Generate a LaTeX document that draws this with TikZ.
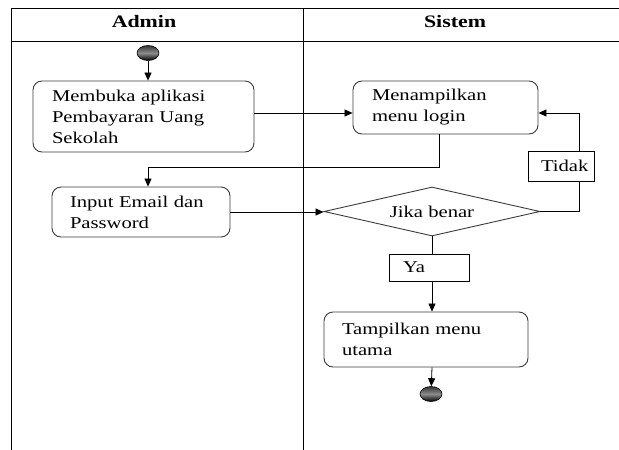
\documentclass[tikz,border=0pt]{standalone}
\usepackage{fontspec}
\setmainfont{Liberation Serif}[FakeStretch=1.25]
\usetikzlibrary{shapes.geometric, positioning, calc, arrows.meta}
\definecolor{lnGray}{RGB}{60,60,60}

\begin{document}
\begin{tikzpicture}[
  x=1pt, y=-1pt,
  font=\fontsize{16.5}{21}\selectfont,
  act/.style={draw=lnGray, line width=0.9pt, rounded corners=9pt, align=left, inner sep=0pt, anchor=center},
  cond/.style={draw=lnGray, line width=0.9pt, diamond, aspect=4.4, inner sep=0pt, minimum width=216pt, minimum height=49pt},
  lbl/.style={draw=black, line width=0.8pt, fill=white, inner sep=0pt, align=left},
  dot/.style={ellipse, draw=black, line width=0.6pt, minimum width=22pt, minimum height=15pt, inner sep=0pt,
    top color=black!80, bottom color=black, middle color=black!45},
  arr/.style={draw=black, line width=0.8pt, -{Triangle[length=8pt,width=7pt]}},
  ln/.style={draw=black, line width=0.8pt},
  lane/.style={font=\fontsize{17.5}{21}\selectfont\bfseries}
]
  \useasboundingbox (0,0) rectangle (619,450);
  % swimlanes
  \draw[ln] (11,8) -- (619,8);
  \draw[ln] (11,41) -- (619,41);
  \draw[ln] (11,8) -- (11,450);
  \draw[ln] (303,8) -- (303,450);
  \node[lane] (admin) at (144,22) {Admin};
  \node[lane] (sistem) at (455,22) {Sistem};

  \node[dot] (start) at (148,53) {};
  \node[act, minimum width=221pt, minimum height=71pt, text width=183pt] (buka) at (143.5,116.5)
    {Membuka aplikasi\\Pembayaran Uang\\Sekolah};
  \node[act, minimum width=185pt, minimum height=53pt, text width=147pt] (login) at (445.5,107.5)
    {Menampilkan\\menu login};
  \node[act, minimum width=178pt, minimum height=50pt, text width=142pt] (input) at (141,212)
    {Input Email dan\\Password};
  \node[cond] (benar) at (432,211.5) {Jika benar};
  \node[lbl, minimum width=66pt, minimum height=30pt, text width=40pt] (tidak) at (561,166) {Tidak};
  \node[lbl, minimum width=80pt, minimum height=27pt, text width=52pt] (ya) at (429,267.5) {Ya};
  \node[act, minimum width=204pt, minimum height=55pt, text width=168pt] (utama) at (426,339.5)
    {Tampilkan menu\\utama};
  \node[dot] (stop) at (431,394) {};

  \coordinate (k1) at (148,167);
  \coordinate (k2) at (579,113);

  \draw[arr] (start) -- (start |- buka.north);
  \draw[arr] ([yshift=3.5pt]buka.east) -- ([yshift=3.5pt]buka.east -| login.west);
  \draw[arr] ([xshift=-6.5pt]login.south) |- (k1) -- (k1 |- input.north);
  \draw[arr] (input.east) -- (input.east -| benar.west);
  \draw[ln] (benar.east) -| (tidak.south -| k2);
  \draw[arr] (tidak.north -| k2) -- (k2) -- (k2 -| login.east);
  \draw[ln] (benar.south) -- (benar.south |- ya.north);
  \draw[arr] (benar.south |- ya.south) -- (benar.south |- utama.north);
  \draw[arr] (benar.south |- utama.south) -- (stop);
\end{tikzpicture}
\end{document}
